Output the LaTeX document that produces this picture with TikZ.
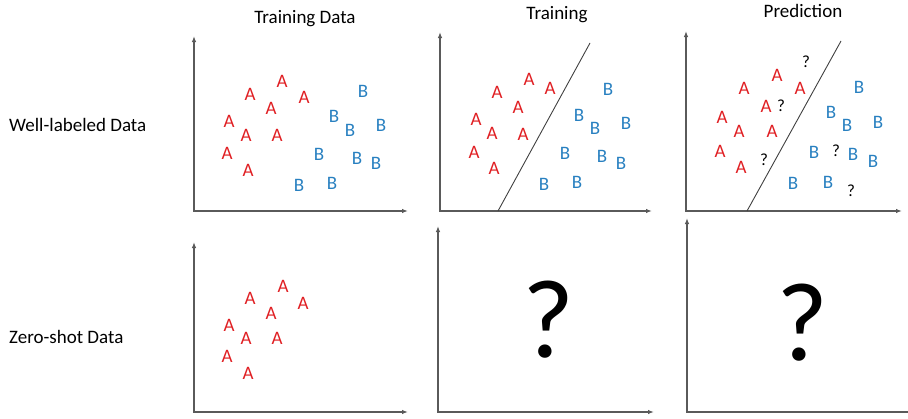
\documentclass[tikz,border=0pt]{standalone}
\usepackage{fontspec}
\setmainfont{Carlito}
\usetikzlibrary{arrows.meta}
\definecolor{cA}{RGB}{224,32,36}
\definecolor{cB}{RGB}{40,128,192}
\definecolor{axisgray}{RGB}{90,90,90}
\begin{document}
\begin{tikzpicture}[x=1pt,y=-1pt,
  lbl/.style={font=\fontsize{19}{22}\selectfont, anchor=base, inner sep=0pt},
  rowlbl/.style={font=\fontsize{19}{22}\selectfont, anchor=base west, inner sep=0pt},
  ptA/.style={font=\fontsize{19}{22}\selectfont, text=cA, inner sep=0pt},
  ptB/.style={font=\fontsize{19}{22}\selectfont, text=cB, inner sep=0pt},
  ptQ/.style={font=\fontsize{17}{20}\selectfont, text=black, inner sep=0pt},
  bigq/.style={font=\fontsize{112}{120}\selectfont, inner sep=0pt},
  axisline/.style={draw=axisgray, line width=1.2pt, {Latex[length=6pt,width=4.5pt]}-{Latex[length=6pt,width=4.5pt]}},
  sepline/.style={draw=black!75, line width=0.9pt}]
\useasboundingbox (0,0) rectangle (908,418);

% titles
\node[lbl] (t1) at (305,23) {Training Data};
\node[lbl] (t2) at (557,19) {Training};
\node[lbl] (t3) at (803,17.5) {Prediction};
% row labels
\node[rowlbl] (r1) at (9,131) {Well-labeled Data};
\node[rowlbl] (r2) at (9,343) {Zero-shot Data};

% axes
\coordinate (o1) at (194,211); \coordinate (y1) at (194,36); \coordinate (x1) at (408,211);
\coordinate (o2) at (440,211); \coordinate (y2) at (440,32); \coordinate (x2) at (652,211);
\coordinate (o3) at (686,211); \coordinate (y3) at (686,31); \coordinate (x3) at (902,211);
\coordinate (o4) at (194,412); \coordinate (y4) at (194,242); \coordinate (x4) at (408,412);
\coordinate (o5) at (438,412); \coordinate (y5) at (438,226); \coordinate (x5) at (654,412);
\coordinate (o6) at (687,412); \coordinate (y6) at (687,218); \coordinate (x6) at (908,412);
\foreach \i in {1,...,5} {\draw[axisline] (y\i) -- (o\i) -- (x\i);}
\draw[draw=axisgray, line width=1.2pt, {Latex[length=6pt,width=4.5pt]}-] (y6) -- (o6) -- (x6);

% separating lines
\coordinate (s2a) at (498,211); \coordinate (s2b) at (590,43);
\coordinate (s3a) at (747,211); \coordinate (s3b) at (841,41);
\draw[sepline] (s2a) -- (s2b);
\draw[sepline] (s3a) -- (s3b);

% panel 1
\foreach \x/\y [count=\k] in {282/81,250/94,304/97,271/108,229/121,246/135,277/135,227/153,248/170}
  \node[ptA] (p1a\k) at (\x,\y) {A};
\foreach \x/\y [count=\k] in {363/91,334/116,350/130,381/125,319/154,357/158,376/163,299/185,332/183}
  \node[ptB] (p1b\k) at (\x,\y) {B};
% panel 2
\foreach \x/\y [count=\k] in {529/79,497/92,550/88,518/107,476/119,492/133,523/134,474/152,494/168}
  \node[ptA] (p2a\k) at (\x,\y) {A};
\foreach \x/\y [count=\k] in {608/89,579/115,595/128,626/123,565/153,602/156,621/163,544/184,577/182}
  \node[ptB] (p2b\k) at (\x,\y) {B};
% panel 3
\foreach \x/\y [count=\k] in {777/75,744/88,800/88,766/106,722/117,739/131,772/131,720/151,741/167}
  \node[ptA] (p3a\k) at (\x,\y) {A};
\foreach \x/\y [count=\k] in {859/87,831/112,847/125,878/122,814/152,853/154,873/161,793/183,828/182}
  \node[ptB] (p3b\k) at (\x,\y) {B};
\foreach \x/\y [count=\k] in {806/62,781/106,836/151,764/160,851/191}
  \node[ptQ] (p3q\k) at (\x,\y) {?};
% panel 4
\foreach \x/\y [count=\k] in {283/286,250/298,303/303,271/313,229/325,246/338,277/338,227/356,248/373}
  \node[ptA] (p4a\k) at (\x,\y) {A};
% big question marks
\node[bigq] (q5) at (548,320) {?};
\node[bigq] (q6) at (802,323) {?};
\end{tikzpicture}
\end{document}
